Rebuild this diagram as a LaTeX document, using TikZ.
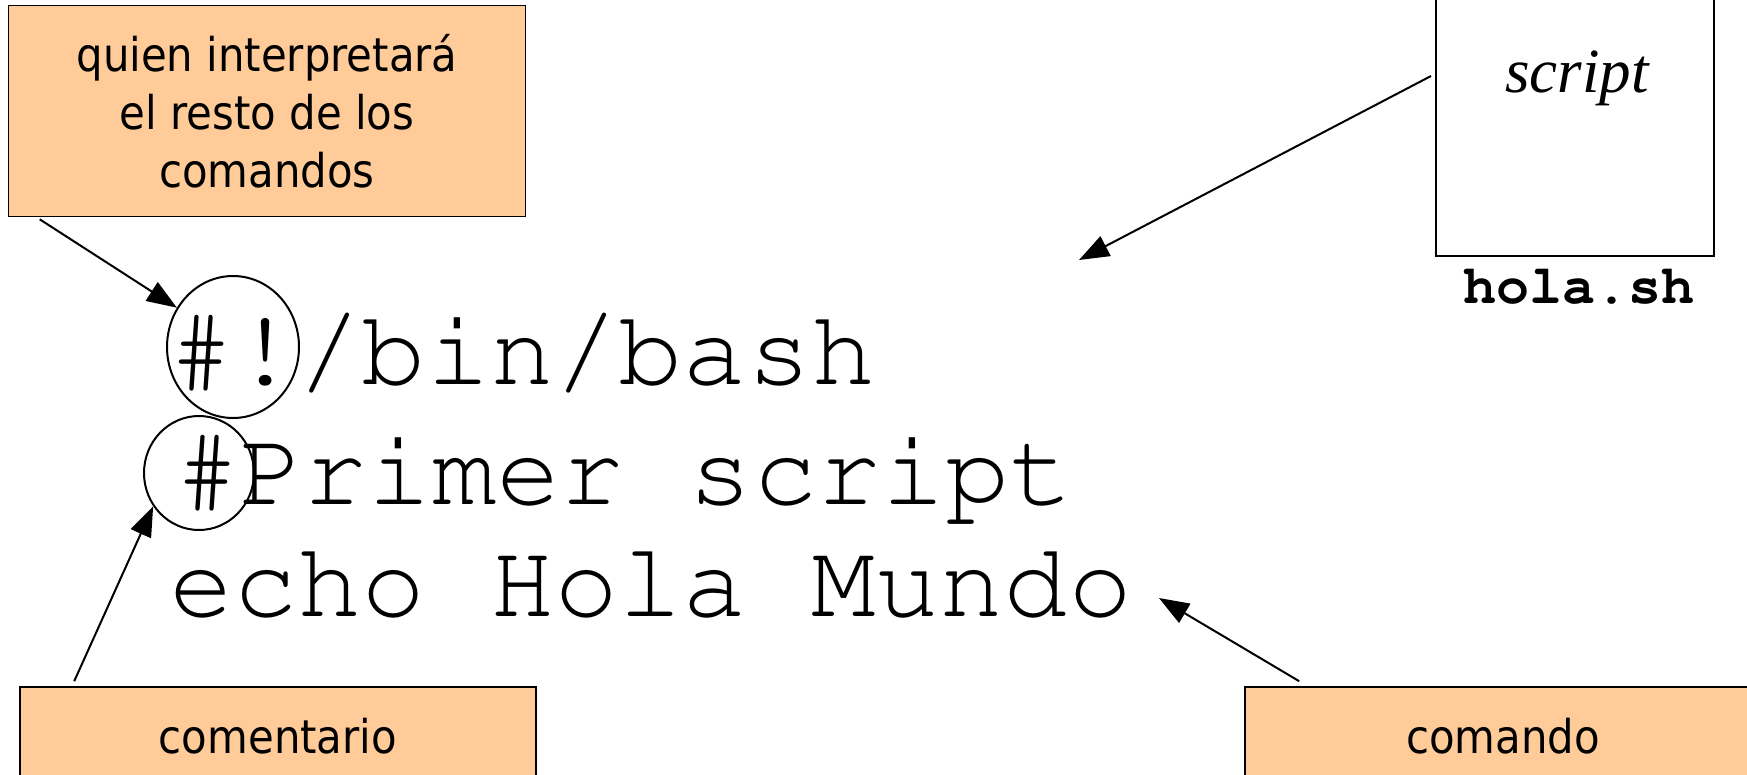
\documentclass[tikz,border=0pt]{standalone}
\usepackage[T1]{fontenc}
\usepackage{fontspec}
\setmainfont{Liberation Serif}
\newfontfamily\labelfont{DejaVu Sans Condensed}
\newcommand\courierfont{\fontencoding{T1}\fontfamily{pcr}\selectfont}
\usetikzlibrary{arrows.meta,shapes.geometric}
\definecolor{cajanaranja}{HTML}{FFCC99}
\tikzset{
	caja/.style={draw, fill=cajanaranja, line width=1.6pt, inner sep=0pt, align=center,
		font=\labelfont\fontsize{46.5}{58}\selectfont},
	codigo/.style={anchor=base west, inner sep=0pt, font=\courierfont\fontsize{107}{107}\selectfont},
	marca/.style={draw, ellipse, line width=2pt, inner sep=0pt},
	flecha/.style={line width=2pt, -{Triangle[length=30pt,width=22pt]}}
}
\begin{document}
\begin{tikzpicture}[x=1pt, y=-1pt]
		\clip (0,0) rectangle (1747,774);
		
		%script file
		\node (scriptbox) at (1575,118) [draw, line width=2pt, minimum width=278pt, minimum height=276pt]{};
		\node (scripttxt) at (1577,78) {\fontsize{63}{63}\selectfont\itshape script};
		\node (nombre) at (1579,303) [anchor=base, inner sep=0pt]{\courierfont\bfseries\fontsize{55}{55}\selectfont hola.sh};
		
		%code lines
		\node (linea1) at (169,384) [codigo]{\#!/bin/bash};
		\node (linea2) at (175,504) [codigo]{\#Primer script};
		\node (linea3) at (169,616) [codigo]{echo Hola Mundo};
		\node (shebang) at (233,347) [marca, minimum width=132pt, minimum height=142pt]{};
		\node (hash) at (199,473) [marca, minimum width=110pt, minimum height=114pt]{};
		
		%labels
		\node (interp) at (267,111) [caja, minimum width=517pt, minimum height=211pt]{quien interpretará\\el resto de los\\comandos};
		\node (coment) at (278,736) [caja, minimum width=516pt, minimum height=98pt]{comentario};
		\node (comando) at (1503,736) [caja, minimum width=516pt, minimum height=98pt]{comando};
		
		\coordinate (tipscript) at (1079,260);
		\coordinate (tipecho) at (1159,598);
		
		\draw[flecha] ([xshift=32pt,yshift=-2pt]interp.south west) -- (shebang.145);
		\draw[flecha] ([xshift=55pt,yshift=5pt]coment.north west) -- (hash.216);
		\draw[flecha] ([xshift=55pt,yshift=5pt]comando.north west) -- (tipecho);
		\draw[flecha] ([xshift=-4pt,yshift=42pt]scriptbox.west) -- (tipscript);
		\end{tikzpicture}
\end{document}
